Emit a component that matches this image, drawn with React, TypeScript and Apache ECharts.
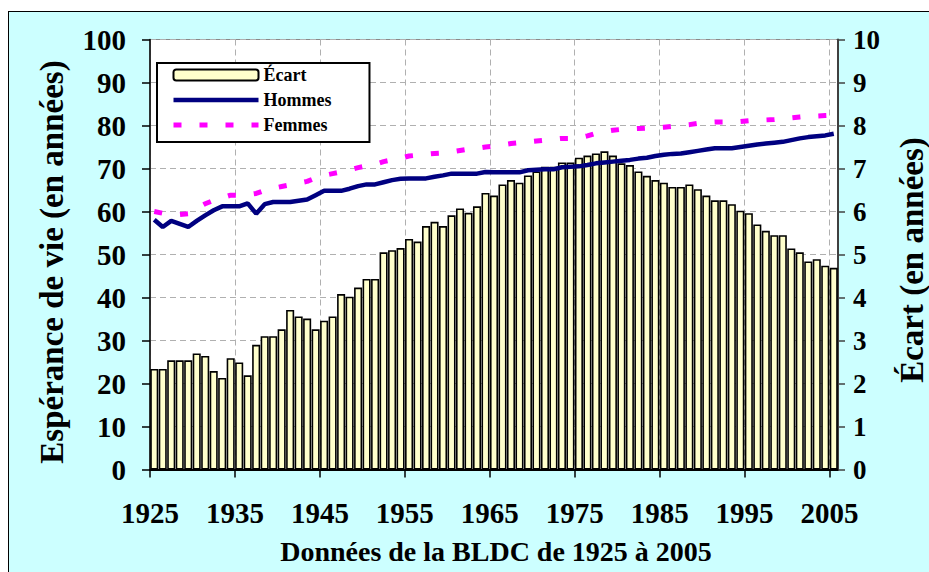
import React, { useEffect, useRef } from "react";
import * as echarts from "echarts";

// ---- Data ----
const years: string[] = Array.from({ length: 81 }, (_, i) => String(1925 + i));
const xTickLabels = ["1925", "1935", "1945", "1955", "1965", "1975", "1985", "1995", "2005"];

// Écart (right axis, years)
const ecart = [
  2.34, 2.34, 2.54, 2.54, 2.54, 2.70, 2.64, 2.29, 2.13, 2.59,
  2.49, 2.19, 2.90, 3.10, 3.10, 3.26, 3.71, 3.56, 3.51, 3.26,
  3.46, 3.56, 4.08, 4.02, 4.23, 4.43, 4.43, 5.05, 5.10, 5.15,
  5.36, 5.30, 5.66, 5.76, 5.66, 5.91, 6.07, 5.97, 6.12, 6.43,
  6.37, 6.63, 6.73, 6.67, 6.84, 6.93, 7.04, 7.04, 7.14, 7.14,
  7.25, 7.30, 7.35, 7.40, 7.30, 7.12, 7.08, 6.93, 6.83, 6.73,
  6.67, 6.57, 6.57, 6.63, 6.52, 6.37, 6.26, 6.26, 6.17, 6.02,
  5.96, 5.70, 5.55, 5.45, 5.45, 5.14, 5.05, 4.84, 4.89, 4.74,
  4.69,
];

// Hommes (left axis)
const hommes = [
  58.1, 56.4, 57.8, 57.1, 56.4, 57.8, 59.1, 60.3, 61.2, 61.2,
  61.2, 61.9, 59.5, 61.7, 62.2, 62.2, 62.2, 62.5, 62.8, 63.8,
  64.8, 64.8, 64.8, 65.3, 65.9, 66.3, 66.3, 66.8, 67.3, 67.6,
  67.7, 67.7, 67.7, 68.1, 68.4, 68.8, 68.8, 68.8, 68.8, 69.2,
  69.1, 69.1, 69.1, 69.1, 69.6, 69.7, 69.8, 69.8, 70.3, 70.4,
  70.5, 70.8, 71.2, 71.4, 71.6, 71.8, 72.0, 72.3, 72.5, 72.9,
  73.2, 73.4, 73.5, 73.8, 74.1, 74.4, 74.7, 74.7, 74.7, 75.0,
  75.3, 75.6, 75.8, 76.0, 76.2, 76.6, 77.0, 77.3, 77.5, 77.7,
  78.1,
];

// Femmes (left axis)
const femmes = [
  60.0, 59.6, 59.4, 59.3, 59.5, 60.8, 61.8, 62.6, 63.2, 63.8,
  63.8, 63.9, 64.2, 64.9, 65.4, 65.8, 66.2, 66.6, 67.0, 67.8,
  68.4, 68.8, 69.2, 69.7, 70.2, 70.6, 71.0, 71.6, 72.0, 72.4,
  72.9, 73.1, 73.3, 73.5, 73.6, 73.9, 74.2, 74.5, 74.7, 75.0,
  75.2, 75.5, 75.8, 76.0, 76.2, 76.4, 76.6, 76.8, 77.0, 77.0,
  77.1, 77.6, 78.2, 78.6, 78.9, 79.1, 79.2, 79.3, 79.4, 79.5,
  79.6, 79.8, 80.0, 80.2, 80.5, 80.7, 80.8, 80.8, 80.8, 80.9,
  81.1, 81.2, 81.3, 81.4, 81.6, 81.8, 82.0, 82.2, 82.2, 82.3,
  82.4,
];

const leftTicks = [0, 10, 20, 30, 40, 50, 60, 70, 80, 90, 100];
const rightTicks = [0, 1, 2, 3, 4, 5, 6, 7, 8, 9, 10];

const FONT = '"Liberation Serif", "Times New Roman", serif';
const HOMMES_COLOR = "#000080";
const FEMMES_COLOR = "#FF00FF";
const FEMMES_DASH = [8, 18];

export default function App() {
  const ref = useRef<HTMLDivElement>(null);

  useEffect(() => {
    if (!ref.current) return;
    const chart = echarts.init(ref.current, undefined, { renderer: "svg" });
    const tickIdx = xTickLabels.map((_, i) => i * 10);
    const option: any = {
      animation: false,
      backgroundColor: "transparent",
      textStyle: { fontFamily: FONT },
      grid: {
        left: 150,
        right: 91,
        top: 39.5,
        bottom: 102.5,
        show: true,
        backgroundColor: "#ffffff",
        borderColor: "#8a8a8a",
        borderWidth: 1,
      },
      legend: {
        orient: "vertical",
        left: 157,
        top: 63,
        itemWidth: 85,
        itemHeight: 11,
        itemGap: 7,
        itemTextGap: 5,
        padding: [3, 38, 8, 14],
        backgroundColor: "#ffffff",
        borderColor: "#000000",
        borderWidth: 2,
        borderRadius: 0,
        textStyle: { fontFamily: FONT, fontWeight: "bold", fontSize: 18, color: "#000" },
        data: [
          { name: "Écart" },
          {
            name: "Hommes",
            itemStyle: { opacity: 0 },
            lineStyle: { color: HOMMES_COLOR, width: 4.5, type: "solid" },
          },
          {
            name: "Femmes",
            itemStyle: { opacity: 0 },
            lineStyle: { color: FEMMES_COLOR, width: 5, type: FEMMES_DASH },
          },
        ],
      },
      xAxis: [
        {
          type: "category",
          data: years,
          show: false,
          boundaryGap: true,
        },
        {
          type: "value",
          min: 0,
          max: years.length,
          interval: 10,
          position: "bottom",
          axisLine: { show: true, onZero: false, lineStyle: { color: "#000", width: 2 } },
          axisTick: {
            show: true,
            inside: false,
            length: 8,
            customValues: tickIdx,
            lineStyle: { color: "#000", width: 1.5 },
          },
          axisLabel: {
            margin: 29,
            customValues: tickIdx,
            fontFamily: FONT,
            fontWeight: "bold",
            fontSize: 29,
            color: "#000",
            formatter: (v: number) => {
              const k = v / 10;
              return Number.isInteger(k) && k < xTickLabels.length ? xTickLabels[k] : "";
            },
          },
          splitLine: { show: true, lineStyle: { color: "#b0b0b0", width: 1, type: [6, 4] } },
        },
      ],
      yAxis: [
        {
          type: "value",
          min: leftTicks[0],
          max: leftTicks[leftTicks.length - 1],
          interval: 10,
          position: "left",
          axisLine: { show: true, onZero: false, lineStyle: { color: "#000", width: 1.5 } },
          axisTick: { show: true, inside: false, length: 8, lineStyle: { color: "#000", width: 1.5 } },
          axisLabel: {
            margin: 24,
            fontFamily: FONT,
            fontWeight: "bold",
            fontSize: 29,
            color: "#000",
          },
          splitLine: { show: true, lineStyle: { color: "#b0b0b0", width: 1, type: [6, 4] } },
        },
        {
          type: "value",
          min: rightTicks[0],
          max: rightTicks[rightTicks.length - 1],
          interval: 1,
          position: "right",
          axisLine: { show: true, onZero: false, lineStyle: { color: "#404040", width: 2 } },
          axisTick: { show: true, inside: false, length: 7, lineStyle: { color: "#404040", width: 1.5 } },
          axisLabel: {
            margin: 15,
            fontFamily: FONT,
            fontWeight: "bold",
            fontSize: 27,
            color: "#000",
          },
          splitLine: { show: false },
        },
      ],
      series: [
        {
          name: "Écart",
          type: "bar",
          xAxisIndex: 0,
          yAxisIndex: 1,
          data: ecart,
          barCategoryGap: "5%",
          itemStyle: { color: "#FFFFCC", borderColor: "#000", borderWidth: 1.6 },
          z: 1,
        },
        {
          name: "Hommes",
          type: "line",
          xAxisIndex: 0,
          yAxisIndex: 0,
          data: hommes,
          symbol: "none",
          lineStyle: { color: HOMMES_COLOR, width: 4.5 },
          itemStyle: { color: HOMMES_COLOR },
          z: 3,
        },
        {
          name: "Femmes",
          type: "line",
          xAxisIndex: 0,
          yAxisIndex: 0,
          data: femmes,
          symbol: "none",
          lineStyle: { color: FEMMES_COLOR, width: 5, type: FEMMES_DASH, cap: "butt" },
          itemStyle: { color: FEMMES_COLOR },
          z: 3,
        },
      ],
      graphic: [
        {
          type: "text",
          x: 52,
          y: 262,
          rotation: Math.PI / 2,
          silent: true,
          style: {
            text: "Espérance de vie (en années)",
            fontFamily: FONT,
            fontWeight: "bold",
            fontSize: 33,
            fill: "#000",
            align: "center",
            verticalAlign: "middle",
          },
        },
        {
          type: "text",
          x: 912,
          y: 260,
          rotation: Math.PI / 2,
          silent: true,
          style: {
            text: "Écart (en années)",
            fontFamily: FONT,
            fontWeight: "bold",
            fontSize: 33,
            fill: "#000",
            align: "center",
            verticalAlign: "middle",
          },
        },
        {
          type: "text",
          x: 496,
          y: 551,
          silent: true,
          style: {
            text: "Données de la BLDC de 1925 à 2005",
            fontFamily: FONT,
            fontWeight: "bold",
            fontSize: 28,
            fill: "#000",
            align: "center",
            verticalAlign: "middle",
          },
        },
      ],
    };
    chart.setOption(option);
    return () => chart.dispose();
  }, []);

  return (
    <div
      style={{
        position: "fixed",
        left: 0,
        top: 0,
        width: 929,
        height: 572,
        overflow: "hidden",
        background: "#ffffff",
      }}
    >
      <div
        style={{
          position: "absolute",
          left: 8,
          top: 11,
          width: 940,
          height: 600,
          background: "#CCFFFF",
          borderLeft: "1.5px solid #000",
          borderTop: "1.5px solid #000",
        }}
      />
      <div ref={ref} style={{ position: "absolute", left: 0, top: 0, width: 929, height: 572 }} />
    </div>
  );
}
